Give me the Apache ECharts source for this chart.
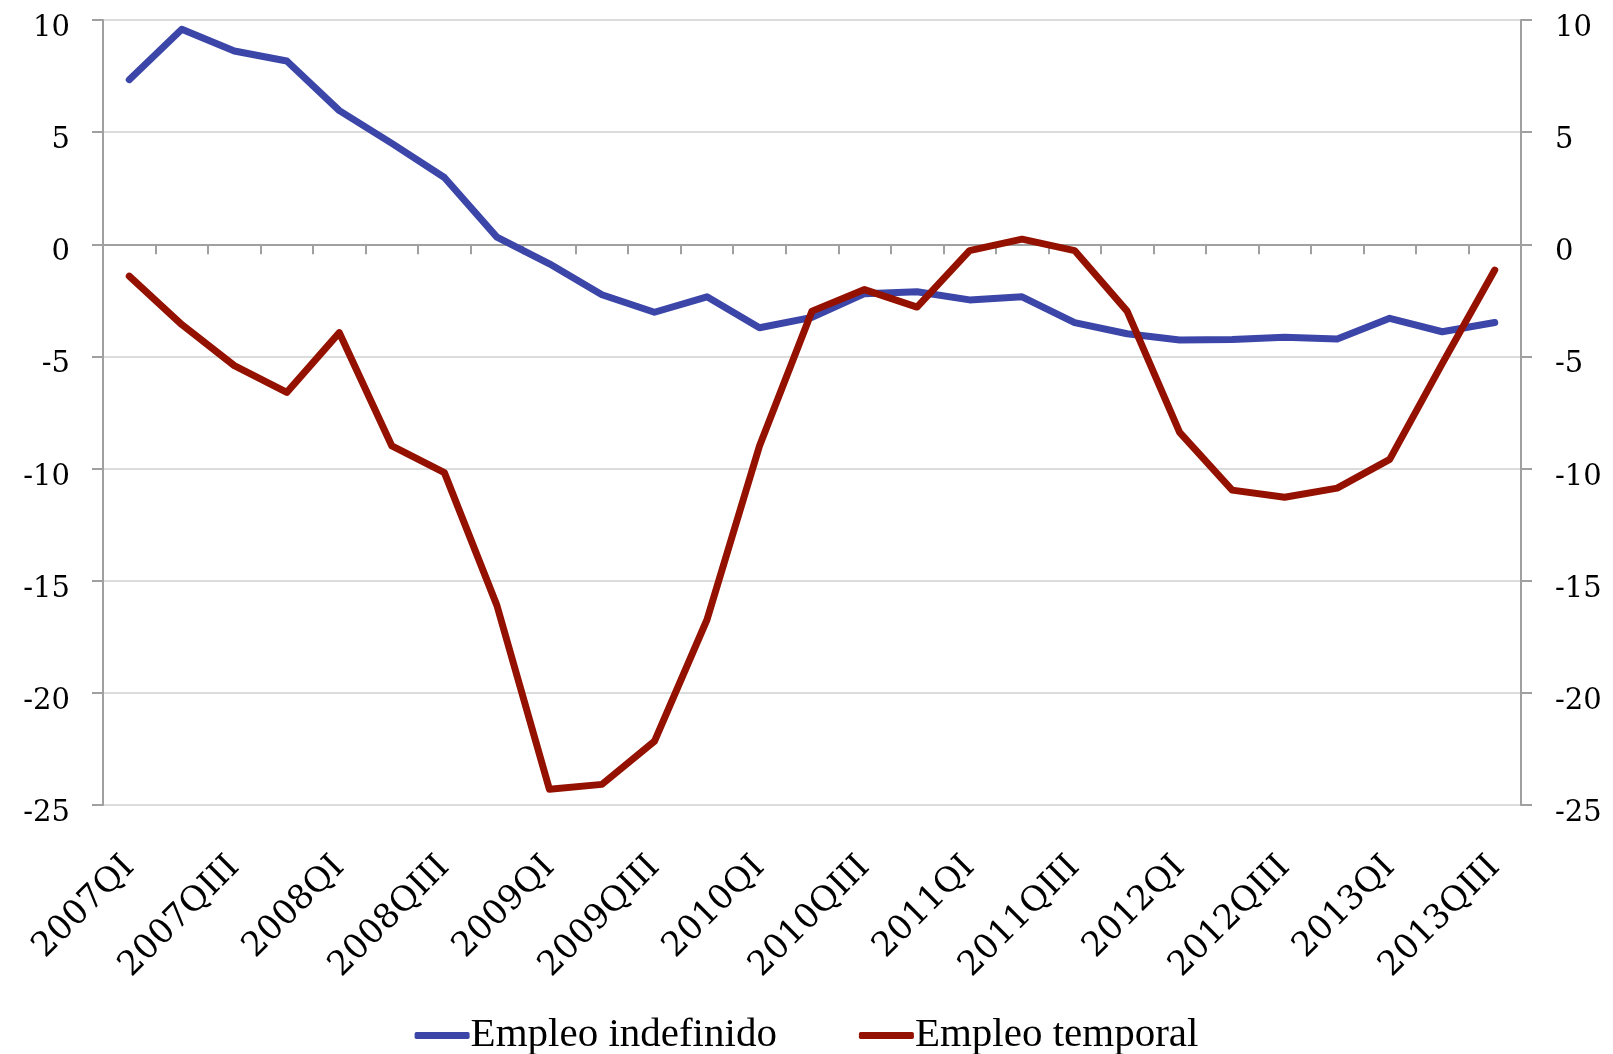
<!DOCTYPE html>
<html>
<head>
<meta charset="utf-8">
<script src="https://cdn.jsdelivr.net/npm/echarts@6/dist/echarts.min.js"></script>
<style>html,body{margin:0;padding:0;background:#fff;}#c{width:1613px;height:1054px;}</style>
</head>
<body>
<div id="c"></div>
<script>
const categories = ['2007QI','2007QII','2007QIII','2007QIV','2008QI','2008QII','2008QIII','2008QIV','2009QI','2009QII','2009QIII','2009QIV','2010QI','2010QII','2010QIII','2010QIV','2011QI','2011QII','2011QIII','2011QIV','2012QI','2012QII','2012QIII','2012QIV','2013QI','2013QII','2013QIII'];
const indefinido = [7.34, 9.59, 8.62, 8.17, 5.96, 4.5, 2.98, 0.32, -0.87, -2.25, -3.03, -2.34, -3.72, -3.26, -2.2, -2.12, -2.48, -2.34, -3.49, -3.99, -4.27, -4.25, -4.15, -4.22, -3.3, -3.9, -3.49];
const temporal = [-1.42, -3.58, -5.41, -6.6, -3.94, -8.99, -10.18, -16.1, -24.3, -24.08, -22.16, -16.74, -8.99, -2.98, -2.02, -2.8, -0.28, 0.23, -0.28, -2.98, -8.39, -10.96, -11.28, -10.87, -9.59, -5.32, -1.15];
const seriesNames = ['Empleo indefinido', 'Empleo temporal'];
const yMin = -25, yMax = 10, yStep = 5;

const axisGray = '#a0a0a0';
const chart = echarts.init(document.getElementById('c'));
const yAxisCommon = {
  type: 'value', min: yMin, max: yMax, interval: yStep,
  axisLine: { show: true, lineStyle: { color: axisGray, width: 2 } },
  axisTick: { show: true, length: 11, lineStyle: { color: axisGray, width: 2 } },
};
const yLabel = {
  formatter: v => '{a|' + v + '}',
  rich: { a: { fontFamily: 'DejaVu Serif', fontSize: 29, color: '#000', padding: [17, 0, 0, 0] } }
};
chart.setOption({
  animation: false,
  backgroundColor: '#fff',
  grid: { left: 103, right: 92, top: 20, bottom: 249, containLabel: false },
  legend: {
    top: 1010, left: 'center',
    itemWidth: 55, itemHeight: 7, itemGap: 82,
    icon: 'roundRect',
    textStyle: { fontFamily: 'Liberation Serif', fontSize: 41, color: '#000', padding: [0, 0, 0, -4] },
    data: seriesNames
  },
  xAxis: [
    {
      type: 'category', data: categories, boundaryGap: true,
      axisLine: { onZero: true, lineStyle: { color: axisGray, width: 2 } },
      axisTick: { show: true, interval: 0, length: 10, lineStyle: { color: axisGray, width: 2 } },
      axisLabel: { show: false },
      splitLine: { show: false }
    },
    {
      type: 'category', data: categories, boundaryGap: true, position: 'bottom',
      axisLine: { show: false, onZero: false },
      axisTick: { show: false },
      axisLabel: {
        interval: 1, rotate: 45, margin: 57,
        fontFamily: 'DejaVu Serif', fontSize: 34, color: '#000'
      },
      splitLine: { show: false }
    }
  ],
  yAxis: [
    Object.assign({}, yAxisCommon, { position: 'left', axisLabel: Object.assign({ margin: 33 }, yLabel),
      splitLine: { show: true, lineStyle: { color: '#dcdcdc', width: 2 } } }),
    Object.assign({}, yAxisCommon, { position: 'right', axisLabel: Object.assign({ margin: 34 }, yLabel),
      splitLine: { show: false } })
  ],
  series: [
    { name: seriesNames[0], type: 'line', data: indefinido, showSymbol: false, symbol: 'none', color: '#3c46a8',
      lineStyle: { width: 7, color: '#3c46a8', cap: 'round', join: 'round' } },
    { name: seriesNames[1], type: 'line', data: temporal, showSymbol: false, symbol: 'none', color: '#941100',
      lineStyle: { width: 7, color: '#941100', cap: 'round', join: 'round' } }
  ]
});
</script>
</body>
</html>
